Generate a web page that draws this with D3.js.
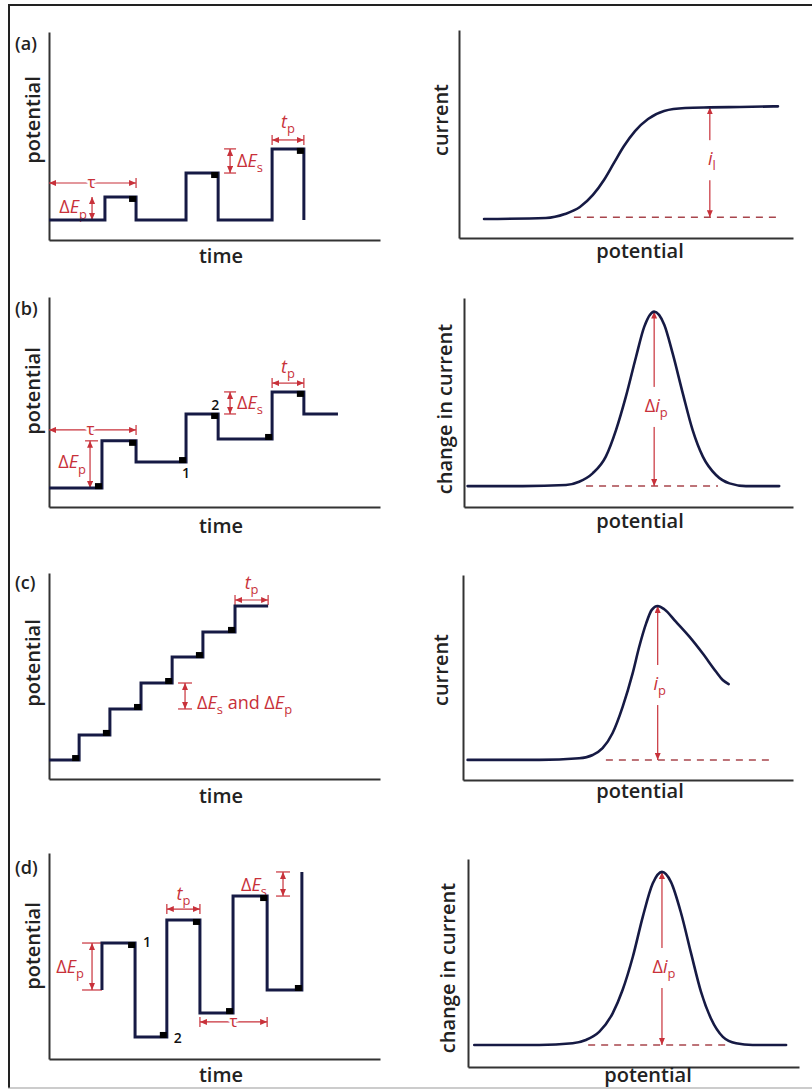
<!DOCTYPE html>
<html><head><meta charset="utf-8">
<script src="https://cdn.jsdelivr.net/npm/d3@7"></script>
<style>
body{margin:0;background:#fff;}
svg text{font-family:"Open Sans","Noto Sans",sans-serif;}
</style></head><body>
<svg id="chart" width="812" height="1090"></svg>
<script>
// ================= DATA =================
const panelLabels = ["(a)", "(b)", "(c)", "(d)"];
const leftXTitle = "time";
const leftYTitle = "potential";
const rightXTitle = "potential";
const rightYTitles = ["current", "change in current", "current", "change in current"];

// excitation waveforms: step points (time, potential), arbitrary units 0-10
const waveA_t = [0, 1.69, 2.63, 4.14, 5.11, 6.74, 7.70];
const waveA_E = [0.96, 2.07, 0.96, 3.22, 0.96, 4.38, 0.96];
const waveA_samples = [1, 3, 5];

const waveB_t = [0, 1.60, 2.63, 4.14, 5.11, 6.74, 7.70, 8.73];
const waveB_E = [0.90, 3.15, 2.14, 4.43, 3.24, 5.48, 4.43, 4.43];
const waveB_samples = [0, 1, 2, 3, 4, 5];

const waveC_t = [0, 0.91, 1.84, 2.78, 3.72, 4.65, 5.62, 6.62];
const waveC_E = [0.92, 2.14, 3.40, 4.66, 5.92, 7.14, 8.40, 8.40];
const waveC_samples = [0, 1, 2, 3, 4, 5];

const waveD_t = [1.60, 1.60, 2.60, 3.56, 4.56, 5.56, 6.59, 7.64];
const waveD_E = [3.35, 5.63, 1.07, 6.75, 2.23, 7.91, 3.35, 9.08];
const waveD_samples = [1, 2, 3, 4, 5, 6];

// responses: (potential, current), arbitrary units 0-10
const respA_x = [0.75, 2.60, 3.17, 3.62, 4.01, 4.34, 4.64, 4.94, 5.27, 5.66, 6.14, 6.77, 7.51, 8.41, 9.55];
const respA_y = [0.91, 0.96, 1.15, 1.49, 2.07, 2.79, 3.61, 4.42, 5.14, 5.72, 6.11, 6.25, 6.28, 6.30, 6.33];
const respB_x = [0.11, 1.78, 3.10, 3.50, 3.91, 4.31, 4.62, 4.92, 5.23, 5.48, 5.78, 6.09, 6.34, 6.65, 6.95, 7.26, 7.66, 8.07, 8.57, 9.58];
const respB_y = [1.00, 1.00, 1.05, 1.21, 1.61, 2.41, 3.68, 5.28, 7.19, 8.63, 9.35, 8.71, 7.36, 5.44, 3.68, 2.41, 1.53, 1.13, 1.00, 1.00];
const respC_x = [0.14, 2.31, 3.52, 3.93, 4.23, 4.53, 4.84, 5.14, 5.34, 5.55, 5.72, 5.90, 6.10, 6.45, 6.86, 7.26, 7.67, 7.87, 8.05];
const respC_y = [0.98, 0.98, 1.06, 1.22, 1.55, 2.28, 3.58, 5.20, 6.50, 7.64, 8.30, 8.49, 8.33, 7.72, 6.99, 6.18, 5.28, 4.88, 4.68];
const respD_x = [0.19, 2.15, 3.16, 3.56, 3.97, 4.37, 4.67, 4.98, 5.28, 5.58, 5.86, 6.13, 6.44, 6.74, 7.04, 7.34, 7.70, 8.10, 8.60, 9.61];
const respD_y = [1.06, 1.06, 1.14, 1.30, 1.70, 2.58, 3.70, 5.30, 7.22, 8.82, 9.38, 8.90, 7.38, 5.46, 3.61, 2.33, 1.45, 1.14, 1.06, 1.06];

// response annotations: baseline level, dashed extent, arrow position, peak/limit level, label
const respBase = [1.0, 1.0, 0.98, 1.06];
const respDashFrom = [3.44, 3.71, 4.33, 3.63];
const respDashTo = [9.55, 7.72, 9.42, 7.85];
const respArrowX = [7.51, 5.78, 5.90, 5.86];
const respTop = [6.28, 9.35, 8.49, 9.38];
const respLabelY = [3.5, 4.55, 4.39, 4.52];
const respLabels = ["<i>i</i><sub>l</sub>", "Δ<i>i</i><sub>p</sub>", "<i>i</i><sub>p</sub>", "Δ<i>i</i><sub>p</sub>"];

// ================= LAYOUT / STYLE =================
const RED = "#c8313a", INK = "#161a44", AX = "#333";
const layout = [
  {lx:[49,380], ly:[240,32],  rx:[459,793], ry:[238,30],  tag:50,  lyT:120, ryT:120, ltB:263, rtB:258, rtX:640, ryX:448},
  {lx:[49,380], ly:[507,297], rx:[464,793], ry:[507,298], tag:315, lyT:391, ryT:409, ltB:533, rtB:528, rtX:640, ryX:452},
  {lx:[49,380], ly:[779,573], rx:[463,793], ry:[780,575], tag:589, lyT:663, ryT:670, ltB:803, rtB:798, rtX:640, ryX:448},
  {lx:[49,380], ly:[1059,853],rx:[468,799], ry:[1067,859],tag:874, lyT:946, ryT:968, ltB:1082,rtB:1082,rtX:648, ryX:455}
];

const svg = d3.select("#chart");
const defs = svg.append("defs");
defs.append("marker").attr("id","ah").attr("viewBox","0 0 7 6").attr("refX",7).attr("refY",3)
  .attr("markerWidth",7).attr("markerHeight",6).attr("markerUnits","userSpaceOnUse")
  .attr("orient","auto-start-reverse")
  .append("path").attr("d","M0,0L7,3L0,6Z").attr("fill",RED);

// frame
svg.append("line").attr("x1",9).attr("y1",4).attr("x2",9).attr("y2",1088).attr("stroke","#222").attr("stroke-width",2);
svg.append("line").attr("x1",8).attr("y1",5).attr("x2",812).attr("y2",5).attr("stroke","#222").attr("stroke-width",2);
svg.append("line").attr("x1",8).attr("y1",1088).attr("x2",812).attr("y2",1088).attr("stroke","#999").attr("stroke-width",1);

function rich(g, x, y, str, o = {}) {
  const size = o.size || 18;
  const t = g.append("text").attr("x", x).attr("y", y)
    .attr("text-anchor", o.anchor || "start").attr("font-size", size)
    .attr("fill", o.fill || RED);
  const parts = str.split(/(<i>.*?<\/i>|<sub>.*?<\/sub>)/).filter(s => s);
  const shift = size * 0.28;
  let shifted = false;
  parts.forEach(p => {
    const ts = t.append("tspan");
    if (p.startsWith("<sub>")) {
      ts.text(p.slice(5, -6)).attr("font-size", size * 0.72).attr("dy", shift);
      shifted = true;
      return;
    }
    if (p.startsWith("<i>")) ts.text(p.slice(3, -4)).attr("font-style", "italic");
    else ts.text(p);
    if (shifted) { ts.attr("dy", -shift); shifted = false; }
  });
  if (o.halo) t.attr("stroke", "#fff").attr("stroke-width", o.halo).attr("paint-order", "stroke").attr("stroke-linejoin","round");
  return t;
}

function hArrow(g, x1, x2, y, ticks) {
  g.append("line").attr("x1", x1).attr("x2", x2).attr("y1", y).attr("y2", y)
    .attr("stroke", RED).attr("stroke-width", 1.2)
    .attr("marker-start", "url(#ah)").attr("marker-end", "url(#ah)");
  const tk = [];
  if (ticks === "both" || ticks === "start") tk.push(x1);
  if (ticks === "both" || ticks === "end") tk.push(x2);
  tk.forEach(x => g.append("line").attr("x1", x).attr("x2", x).attr("y1", y - 5).attr("y2", y + 5)
    .attr("stroke", RED).attr("stroke-width", 1.2));
}
function vArrow(g, x, y1, y2, tl, tr) {
  g.append("line").attr("x1", x).attr("x2", x).attr("y1", y1).attr("y2", y2)
    .attr("stroke", RED).attr("stroke-width", 1.2)
    .attr("marker-start", "url(#ah)").attr("marker-end", "url(#ah)");
  if (tl || tr) [y1, y2].forEach(y => g.append("line").attr("x1", x - tl).attr("x2", x + tr)
    .attr("y1", y).attr("y2", y).attr("stroke", RED).attr("stroke-width", 1.2));
}

const waves = [
  {t: waveA_t, E: waveA_E, s: waveA_samples},
  {t: waveB_t, E: waveB_E, s: waveB_samples},
  {t: waveC_t, E: waveC_E, s: waveC_samples},
  {t: waveD_t, E: waveD_E, s: waveD_samples}
];
const resps = [
  {x: respA_x, y: respA_y}, {x: respB_x, y: respB_y},
  {x: respC_x, y: respC_y}, {x: respD_x, y: respD_y}
];

function axes(g, xs, ys) {
  const y0 = ys.range()[0], x0 = xs.range()[0];
  g.append("g").attr("transform", `translate(0,${y0})`)
    .call(d3.axisBottom(xs).tickValues([]).tickSizeOuter(0))
    .select(".domain").attr("stroke", AX).attr("stroke-width", 2);
  g.append("g").attr("transform", `translate(${x0},0)`)
    .call(d3.axisLeft(ys).tickValues([]).tickSizeOuter(0))
    .select(".domain").attr("stroke", AX).attr("stroke-width", 2);
}

layout.forEach((Lp, p) => {
  // ---------- left: excitation ----------
  const g = svg.append("g");
  const xs = d3.scaleLinear().domain([0, 10]).range(Lp.lx);
  const ys = d3.scaleLinear().domain([0, 10]).range(Lp.ly);
  axes(g, xs, ys);
  g.append("text").attr("x", 15).attr("y", Lp.tag).attr("font-size", 18).attr("font-weight", 600).attr("fill", "#222").text(panelLabels[p]);
  g.append("text").attr("transform", `translate(40,${Lp.lyT}) rotate(-90)`).attr("text-anchor", "middle")
    .attr("font-size", 20).attr("font-weight", 600).attr("fill", "#222").text(leftYTitle);
  g.append("text").attr("x", 221).attr("y", Lp.ltB).attr("text-anchor", "middle")
    .attr("font-size", 20).attr("font-weight", 600).attr("fill", "#222").text(leftXTitle);

  const W = waves[p];
  const ann = g.append("g");
  const X = i => xs(W.t[i]), Y = i => ys(W.E[i]);

  if (p === 0) {
    hArrow(ann, xs(0), X(2), ys(2.74), "end");
    rich(ann, (xs(0) + X(2)) / 2 - 1, ys(2.74) + 5, "τ", {anchor: "middle", size: 17, halo: 5});
    vArrow(ann, xs(1.30), Y(1), Y(0), 0, 0);
    rich(ann, xs(1.30) - 5, (Y(1) + Y(0)) / 2 + 5, "Δ<i>E</i><sub>p</sub>", {anchor: "end"});
    vArrow(ann, xs(5.47), Y(5), Y(3), 6, 6);
    rich(ann, xs(5.47) + 7, (Y(5) + Y(3)) / 2 + 6, "Δ<i>E</i><sub>s</sub>");
    hArrow(ann, X(5), X(6), ys(4.81), "both");
    rich(ann, (X(5) + X(6)) / 2, ys(4.81) - 12, "<i>t</i><sub>p</sub>", {anchor: "middle"});
  } else if (p === 1) {
    hArrow(ann, xs(0), X(2), ys(3.67), "end");
    rich(ann, (xs(0) + X(2)) / 2 - 2, ys(3.67) + 5, "τ", {anchor: "middle", size: 17, halo: 5});
    vArrow(ann, xs(1.24), Y(1), Y(0), 5, 8);
    rich(ann, xs(1.24) - 4, (Y(1) + Y(0)) / 2 + 4, "Δ<i>E</i><sub>p</sub>", {anchor: "end"});
    vArrow(ann, xs(5.47), Y(5), Y(6), 6, 6);
    rich(ann, xs(5.47) + 7, (Y(5) + Y(6)) / 2 + 6, "Δ<i>E</i><sub>s</sub>");
    hArrow(ann, X(5), X(6), ys(5.9), "both");
    rich(ann, (X(5) + X(6)) / 2, ys(5.9) - 10, "<i>t</i><sub>p</sub>", {anchor: "middle"});
  } else if (p === 2) {
    hArrow(ann, X(6), X(7), ys(8.69), "both");
    rich(ann, (X(6) + X(7)) / 2, ys(8.69) - 11, "<i>t</i><sub>p</sub>", {anchor: "middle"});
    vArrow(ann, xs(4.11), Y(3), Y(2), 7, 7);
    rich(ann, xs(4.11) + 12, Y(2), "Δ<i>E</i><sub>s</sub> and Δ<i>E</i><sub>p</sub>");
  } else {
    vArrow(ann, xs(1.30), Y(1), Y(0), 10, 10);
    rich(ann, xs(1.30) - 8, (Y(1) + Y(0)) / 2 + 6, "Δ<i>E</i><sub>p</sub>", {anchor: "end"});
    hArrow(ann, X(3), X(4), ys(7.28), "both");
    rich(ann, (X(3) + X(4)) / 2, ys(7.28) - 9, "<i>t</i><sub>p</sub>", {anchor: "middle"});
    hArrow(ann, X(4), X(6), ys(1.80), "both");
    rich(ann, (X(4) + X(6)) / 2, ys(1.80) + 5, "τ", {anchor: "middle", size: 17, halo: 5});
    vArrow(ann, xs(7.07), Y(7), Y(5), 7, 7);
    rich(ann, xs(7.07) - 16, Y(5) - 5, "Δ<i>E</i><sub>s</sub>", {anchor: "end"});
  }

  const idx = d3.range(W.t.length);
  g.append("path").attr("d", d3.line().x(X).y(Y).curve(d3.curveStepAfter)(idx))
    .attr("fill", "none").attr("stroke", INK).attr("stroke-width", 3).attr("stroke-linejoin", "miter");
  g.selectAll(".smp").data(W.s).join("rect")
    .attr("x", i => X(i + 1) - 7).attr("width", 7)
    .attr("y", i => Y(i + 1) < Y(i) ? Y(i) - 5 : Y(i) - 1).attr("height", 6)
    .attr("fill", "#000");

  if (p === 1) {
    g.append("text").attr("x", X(3)).attr("y", Y(2) + 16).attr("text-anchor", "middle").attr("font-size", 14).attr("font-weight", 600).attr("fill", "#111").text("1");
    g.append("text").attr("x", X(4) - 3).attr("y", Y(3) - 4).attr("text-anchor", "middle").attr("font-size", 14).attr("font-weight", 600).attr("fill", "#111").text("2");
  }
  if (p === 3) {
    g.append("text").attr("x", X(2) + 8).attr("y", Y(1) + 4).attr("font-size", 14).attr("font-weight", 600).attr("fill", "#111").text("1");
    g.append("text").attr("x", X(3) + 7).attr("y", Y(2) + 6).attr("font-size", 14).attr("font-weight", 600).attr("fill", "#111").text("2");
  }

  // ---------- right: response ----------
  const h = svg.append("g");
  const rx = d3.scaleLinear().domain([0, 10]).range(Lp.rx);
  const ry = d3.scaleLinear().domain([0, 10]).range(Lp.ry);
  axes(h, rx, ry);
  h.append("text").attr("transform", `translate(${Lp.ryX},${Lp.ryT}) rotate(-90)`).attr("text-anchor", "middle")
    .attr("font-size", 20).attr("font-weight", 600).attr("fill", "#222").text(rightYTitles[p]);
  h.append("text").attr("x", Lp.rtX).attr("y", Lp.rtB).attr("text-anchor", "middle")
    .attr("font-size", 20).attr("font-weight", 600).attr("fill", "#222").text(rightXTitle);

  h.append("line").attr("x1", rx(respDashFrom[p])).attr("x2", rx(respDashTo[p]))
    .attr("y1", ry(respBase[p])).attr("y2", ry(respBase[p]))
    .attr("stroke", "#a8454c").attr("stroke-width", 1.5).attr("stroke-dasharray", "7,6");
  vArrow(h, rx(respArrowX[p]), ry(respTop[p]), ry(respBase[p]), 0, 0);
  const lab = rich(h, rx(respArrowX[p]) + 2, ry(respLabelY[p]), respLabels[p], {anchor: "middle", size: 18});
  const bb = lab.node().getBBox();
  h.insert("rect", "text:last-of-type").attr("x", bb.x - 2).attr("y", bb.y - 6).attr("width", bb.width + 4)
    .attr("height", bb.height + 12).attr("fill", "#fff");
  lab.raise();

  const R = resps[p];
  const ridx = d3.range(R.x.length);
  h.append("path").attr("d", d3.line().x(i => rx(R.x[i])).y(i => ry(R.y[i])).curve(d3.curveMonotoneX)(ridx))
    .attr("fill", "none").attr("stroke", INK).attr("stroke-width", 2.6).attr("stroke-linecap", "round");
});
</script>
</body></html>
